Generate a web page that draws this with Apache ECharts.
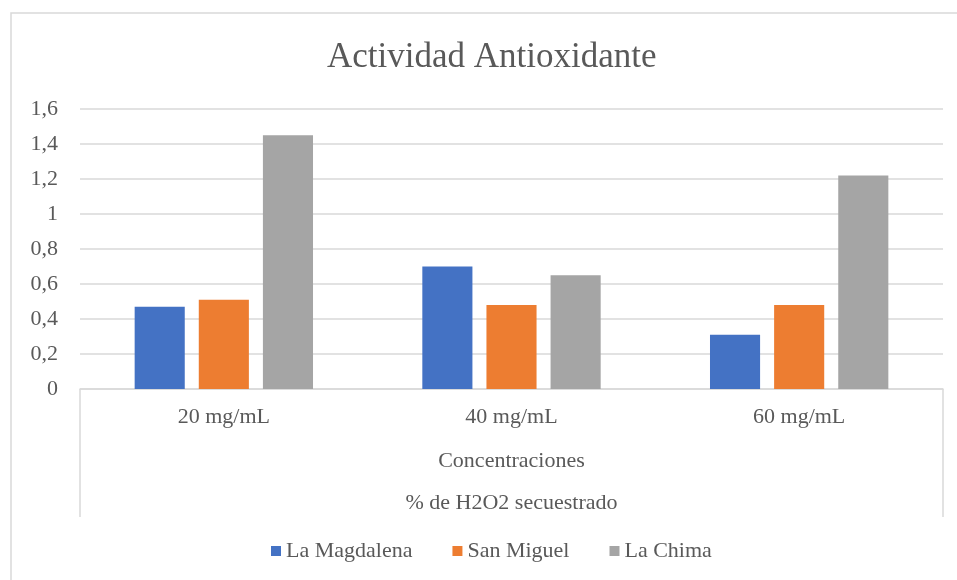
<!DOCTYPE html>
<html>
<head>
<meta charset="utf-8">
<script src="https://cdn.jsdelivr.net/npm/echarts@6/dist/echarts.min.js"></script>
<style>
  html, body { margin: 0; padding: 0; background: #fff; }
  #chart { width: 957px; height: 580px; }
</style>
</head>
<body>
<div id="chart"></div>
<script>
// Concentration groups on the category axis
const categories = ['20 mg/mL', '40 mg/mL', '60 mg/mL'];

// Antioxidant activity per site
const laMagdalena = [0.47, 0.70, 0.31];
const sanMiguel   = [0.51, 0.48, 0.48];
const laChima     = [1.45, 0.65, 1.22];

const seriesNames = ['La Magdalena', 'San Miguel', 'La Chima'];
const seriesColors = ['#4472C4', '#ED7D31', '#A5A5A5'];

const FONT = '"Liberation Serif", "Times New Roman", serif';
const TEXT = '#595959';
const LINE = '#D9D9D9';
const FS = 22;

const GRID = { left: 80, right: 14, top: 109, bottom: 191 };
const axisY = 580 - GRID.bottom;

const chart = echarts.init(document.getElementById('chart'));

chart.setOption({
  animation: false,
  backgroundColor: '#fff',
  textStyle: { fontFamily: FONT, color: TEXT },
  title: {
    text: 'Actividad Antioxidante',
    left: 322,
    top: 35,
    textStyle: { fontFamily: FONT, fontSize: 35, fontWeight: 'normal', color: TEXT }
  },
  legend: {
    bottom: 13,
    left: 266,
    itemWidth: 10,
    itemHeight: 10,
    itemGap: 40,
    icon: 'rect',
    textStyle: { fontFamily: FONT, fontSize: FS, color: TEXT },
    data: seriesNames
  },
  grid: GRID,
  xAxis: {
    type: 'category',
    data: categories,
    axisLine: { lineStyle: { color: LINE, width: 1.5 } },
    axisTick: { show: false },
    axisLabel: { fontFamily: FONT, fontSize: FS, color: TEXT, margin: 17 },
    name: 'Concentraciones\n% de H2O2 secuestrado',
    nameLocation: 'middle',
    nameGap: 51,
    nameTextStyle: { fontFamily: FONT, fontSize: FS, color: TEXT, lineHeight: 42, verticalAlign: 'top' }
  },
  yAxis: {
    type: 'value',
    min: 0,
    max: 1.6,
    interval: 0.2,
    axisLine: { show: false },
    axisTick: { show: false },
    splitLine: { lineStyle: { color: LINE, width: 1.5 } },
    axisLabel: {
      fontFamily: FONT, fontSize: FS, color: TEXT, margin: 22,
      formatter: v => String(Math.round(v * 10) / 10).replace('.', ',')
    }
  },
  series: [laMagdalena, sanMiguel, laChima].map((data, i) => ({
    name: seriesNames[i],
    type: 'bar',
    data: data,
    barGap: '28%',
    barCategoryGap: '38%',
    itemStyle: { color: seriesColors[i] }
  })),
  graphic: [
    // chart frame
    { type: 'rect', silent: true, shape: { x: 11, y: 13, width: 1000, height: 1000 },
      style: { fill: 'none', stroke: LINE, lineWidth: 1.5 } },
    // outer boundaries of the multi-level category axis
    { type: 'line', silent: true, shape: { x1: GRID.left, y1: axisY, x2: GRID.left, y2: 517 },
      style: { stroke: LINE, lineWidth: 1.5 } },
    { type: 'line', silent: true, shape: { x1: 957 - GRID.right, y1: axisY, x2: 957 - GRID.right, y2: 517 },
      style: { stroke: LINE, lineWidth: 1.5 } }
  ]
});
</script>
</body>
</html>
